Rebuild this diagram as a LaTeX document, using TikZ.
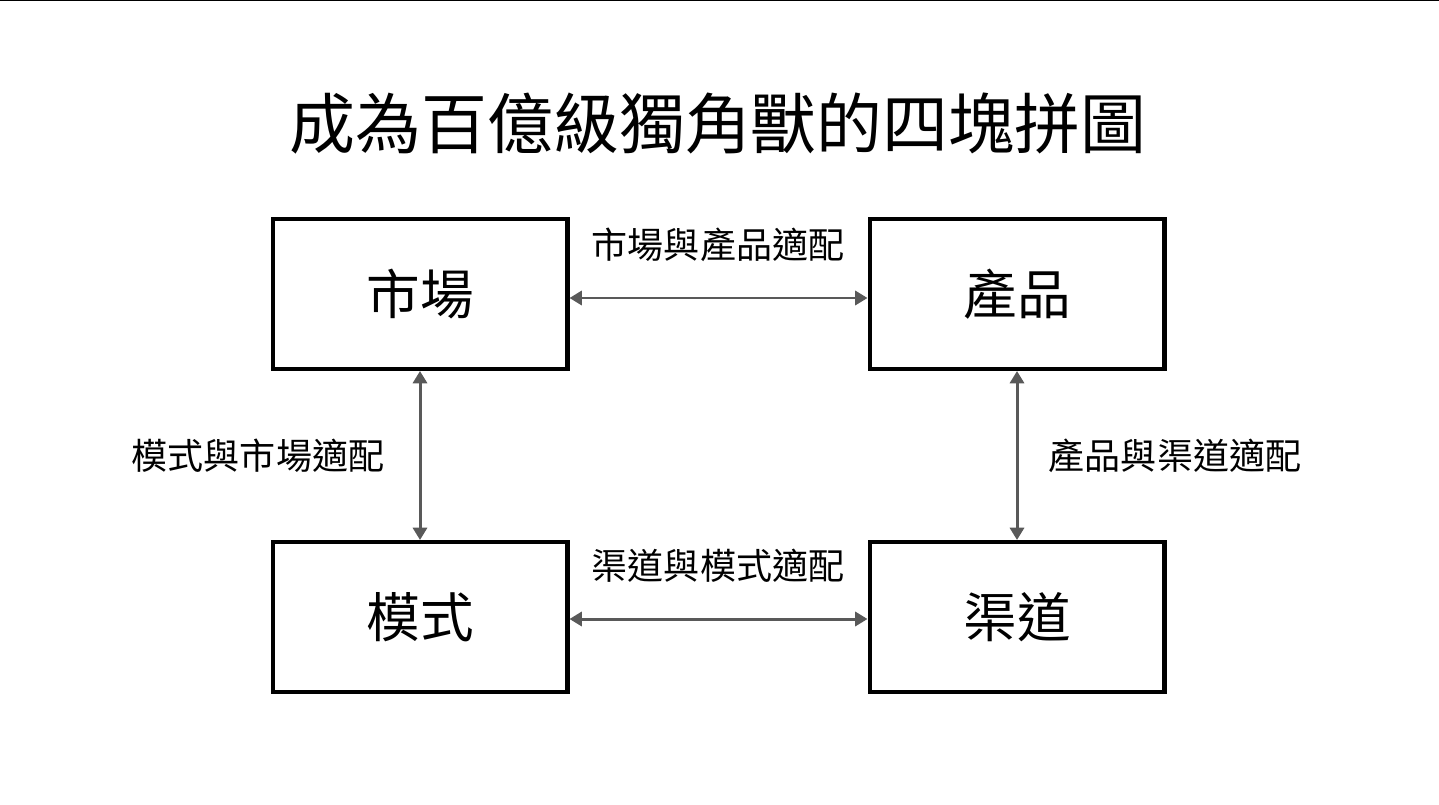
\documentclass[tikz,border=0pt]{standalone}
\usepackage{fontspec}
\setmainfont{Noto Sans CJK TC}
\usetikzlibrary{positioning,arrows.meta}
\definecolor{linkgray}{HTML}{595959}
\tikzset{
    piece/.style = {
        draw,
        shape=rectangle,
        minimum height=3.0cm,
        minimum width=5.9cm,
        line width=2.3pt,
        font=\fontsize{30.5}{34}\selectfont
    },
    fit/.style = {
        shape=rectangle,
        font=\fontsize{20.5}{24}\selectfont
    },
    link/.style = {
        draw=linkgray,
        line width=1.7pt,
        {Triangle[length=7pt,width=8pt]}-{Triangle[length=7pt,width=8pt]}
    },
}
\begin{document}
\begin{tikzpicture}[x=0.02cm,y=-0.02cm]
    \useasboundingbox (0,0) rectangle (1439,804);
    \draw[line width=1pt] (0,0.5) -- (1439,0.5);
    \node[font=\fontsize{37.5}{42}\selectfont] (title) at (718,124) {成為百億級獨角獸的四塊拼圖};

    \node[piece] (market) at (420,294) {市場};
    \node[piece] (product) at (1017,294) {產品};
    \node[piece] (model) at (420,617) {模式};
    \node[piece] (channel) at (1017,617) {渠道};

    \node[fit] (mp) at (718,245) {市場與產品適配};
    \node[fit] (cm) at (718,566) {渠道與模式適配};
    \node[fit] (mm) at (258,456) {模式與市場適配};
    \node[fit] (pc) at (1175,456) {產品與渠道適配};

    \path[link] ([yshift=-4*0.02cm]market.east) -- ([yshift=-4*0.02cm]product.west);
    \path[link] ([yshift=-2*0.02cm]model.east) -- ([yshift=-2*0.02cm]channel.west);
    \path[link] (market) -- (model);
    \path[link] (product) -- (channel);
\end{tikzpicture}
\end{document}
